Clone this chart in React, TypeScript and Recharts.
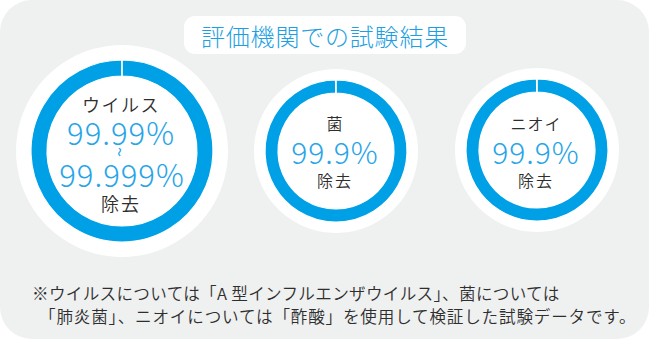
import { PieChart, Pie, Cell } from "recharts";

// 試験結果データ
const categories = ["ウイルス", "菌", "ニオイ"];
const removalRates = [99.99, 99.9, 99.9];
const rateLabels = [["99.99%", "99.999%"], ["99.9%"], ["99.9%"]];
const resultLabel = "除去";
const title = "評価機関での試験結果";
const footnotes = [
  "※ウイルスについては「A 型インフルエンザウイルス」、菌については",
  "「肺炎菌」、ニオイについては「酢酸」を使用して検証した試験データです。",
];

const BLUE = "#00a0e6";
const TEXT_BLUE = "#27a5e8";
const DARK = "#2e2e2e";
const FONT = '"Noto Sans CJK JP", "Noto Sans", sans-serif';

// 各リングの配置
const rings = [
  { cx: 122, cy: 151, outer: 91, inner: 75, back: 106 },
  { cx: 336, cy: 151, outer: 71, inner: 58, back: 82 },
  { cx: 537, cy: 150, outer: 71, inner: 58, back: 82 },
];

export default function App() {
  return (
    <div
      style={{
        position: "absolute",
        left: 0,
        top: 0,
        width: 650,
        height: 340,
        background: "#fff",
        fontFamily: FONT,
      }}
    >
      <div
        style={{
          position: "absolute",
          left: 0,
          top: 0,
          width: 649,
          height: 339,
          borderRadius: 32,
          background: "#eff0f0",
        }}
      />
      <div
        style={{
          position: "absolute",
          left: 184,
          top: 16,
          width: 282,
          height: 38,
          borderRadius: 11,
          background: "#fff",
        }}
      />
      <PieChart
        width={650}
        height={340}
        margin={{ top: 0, right: 0, bottom: 0, left: 0 }}
        style={{ position: "absolute", left: 0, top: 0 }}
      >
        {rings.map((r, i) => (
          <Pie
            key={`back-${i}`}
            data={[{ name: categories[i], value: 100 }]}
            dataKey="value"
            cx={r.cx}
            cy={r.cy}
            innerRadius={0}
            outerRadius={r.back}
            fill="#fff"
            stroke="none"
            isAnimationActive={false}
          />
        ))}
        {rings.map((r, i) => (
          <Pie
            key={`ring-${i}`}
            data={[
              { name: categories[i], value: removalRates[i] },
              { name: "残り", value: 100 - removalRates[i] },
            ]}
            dataKey="value"
            cx={r.cx}
            cy={r.cy}
            innerRadius={r.inner}
            outerRadius={r.outer}
            startAngle={90}
            endAngle={-270}
            stroke="#fff"
            strokeWidth={1.2}
            isAnimationActive={false}
          >
            <Cell fill={BLUE} />
            <Cell fill="#fff" />
          </Pie>
        ))}
      </PieChart>
      <svg
        width={650}
        height={340}
        style={{ position: "absolute", left: 0, top: 0, pointerEvents: "none" }}
        fontFamily={FONT}
      >
        <text x={325} y={35} textAnchor="middle" dominantBaseline="central" fontSize={24} letterSpacing={0.8} fill="#1e9fe2" fontWeight={300}>
          {title}
        </text>

        {/* ウイルス */}
        <text x={121} y={104} textAnchor="middle" dominantBaseline="central" fontSize={18} letterSpacing={1.5} fill={DARK} fontWeight={350}>
          {categories[0]}
        </text>
        <text x={121} y={131} textAnchor="middle" dominantBaseline="central" fontSize={31} letterSpacing={1} fill={TEXT_BLUE} fontWeight={300}>
          {rateLabels[0][0]}
        </text>
        <text x={121} y={152} textAnchor="middle" dominantBaseline="central" fontSize={18} fill={TEXT_BLUE} transform="rotate(90 121 152)">
          ~
        </text>
        <text x={122} y={173} textAnchor="middle" dominantBaseline="central" fontSize={31} letterSpacing={1} fill={TEXT_BLUE} fontWeight={300}>
          {rateLabels[0][1]}
        </text>
        <text x={121} y={203} textAnchor="middle" dominantBaseline="central" fontSize={18} letterSpacing={2} fill={DARK} fontWeight={350}>
          {resultLabel}
        </text>

        {/* 菌 / ニオイ */}
        {[1, 2].map((i) => (
          <g key={i}>
            <text x={rings[i].cx - 1} y={123} textAnchor="middle" dominantBaseline="central" fontSize={16} letterSpacing={1} fill={DARK} fontWeight={350}>
              {categories[i]}
            </text>
            <text x={rings[i].cx - 1} y={151} textAnchor="middle" dominantBaseline="central" fontSize={30} letterSpacing={1} fill={TEXT_BLUE} fontWeight={300}>
              {rateLabels[i][0]}
            </text>
            <text x={rings[i].cx - 1} y={180} textAnchor="middle" dominantBaseline="central" fontSize={16} letterSpacing={2} fill={DARK} fontWeight={350}>
              {resultLabel}
            </text>
          </g>
        ))}

        <text x={32} y={293} dominantBaseline="central" fontSize={16.6} letterSpacing={0.3} fill={DARK} fontWeight={350}>
          {footnotes[0]}
        </text>
        <text x={39} y={316} dominantBaseline="central" fontSize={16.6} letterSpacing={0.8} fill={DARK} fontWeight={350}>
          {footnotes[1]}
        </text>
      </svg>
    </div>
  );
}
